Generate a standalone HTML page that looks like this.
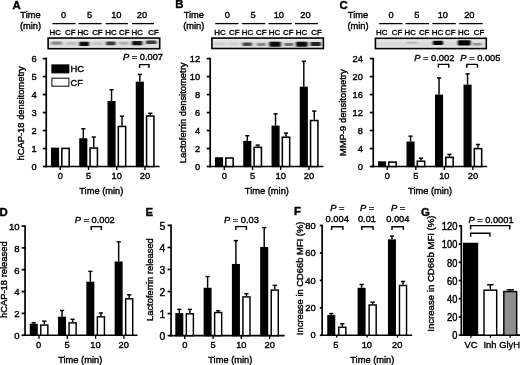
<!DOCTYPE html>
<html><head><meta charset="utf-8"><title>Figure</title>
<style>
html,body{margin:0;padding:0;background:#fff;}
body{width:520px;height:365px;overflow:hidden;}
svg{display:block;filter:grayscale(1) blur(0.3px);font-family:"Liberation Sans",sans-serif;fill:#000;}
text{stroke:#000;stroke-width:0.38px;}
</style></head>
<body>
<svg width="520" height="365" viewBox="0 0 520 365">
<defs><linearGradient id="bg" x1="0" y1="0" x2="0" y2="1"><stop offset="0" stop-color="#ececec"/><stop offset="0.25" stop-color="#e4e4e4"/><stop offset="0.55" stop-color="#d6d6d6"/><stop offset="0.8" stop-color="#e2e2e2"/><stop offset="1" stop-color="#ececec"/></linearGradient><filter id="bl" x="-5%" y="-50%" width="110%" height="200%"><feGaussianBlur stdDeviation="0.9 0.7"/></filter></defs>
<rect x="0" y="0" width="520" height="365" fill="#fff" stroke="none"/>
<text x="12.50" y="8.70" font-size="11.4" text-anchor="start" font-weight="bold" font-style="normal" >A</text>
<text x="30.50" y="18.20" font-size="9.3" text-anchor="middle" font-weight="normal" font-style="normal" >Time</text>
<text x="30.50" y="28.70" font-size="9.3" text-anchor="middle" font-weight="normal" font-style="normal" >(min)</text>
<text x="63.50" y="18.20" font-size="9.3" text-anchor="middle" font-weight="normal" font-style="normal" >0</text>
<text x="89.50" y="18.20" font-size="9.3" text-anchor="middle" font-weight="normal" font-style="normal" >5</text>
<text x="116.30" y="18.20" font-size="9.3" text-anchor="middle" font-weight="normal" font-style="normal" >10</text>
<text x="142.00" y="18.20" font-size="9.3" text-anchor="middle" font-weight="normal" font-style="normal" >20</text>
<line x1="52.40" y1="23.60" x2="75.60" y2="23.60" stroke="#000" stroke-width="1.3"/>
<line x1="78.40" y1="23.60" x2="101.60" y2="23.60" stroke="#000" stroke-width="1.3"/>
<line x1="105.60" y1="23.60" x2="128.00" y2="23.60" stroke="#000" stroke-width="1.3"/>
<line x1="132.00" y1="23.60" x2="154.00" y2="23.60" stroke="#000" stroke-width="1.3"/>
<text x="55.30" y="35.20" font-size="7.9" text-anchor="middle" font-weight="normal" font-style="normal" >HC</text>
<text x="70.30" y="35.20" font-size="7.9" text-anchor="middle" font-weight="normal" font-style="normal" >CF</text>
<text x="83.10" y="35.20" font-size="7.9" text-anchor="middle" font-weight="normal" font-style="normal" >HC</text>
<text x="97.40" y="35.20" font-size="7.9" text-anchor="middle" font-weight="normal" font-style="normal" >CF</text>
<text x="111.00" y="35.20" font-size="7.9" text-anchor="middle" font-weight="normal" font-style="normal" >HC</text>
<text x="124.30" y="35.20" font-size="7.9" text-anchor="middle" font-weight="normal" font-style="normal" >CF</text>
<text x="137.30" y="35.20" font-size="7.9" text-anchor="middle" font-weight="normal" font-style="normal" >HC</text>
<text x="153.50" y="35.20" font-size="7.9" text-anchor="middle" font-weight="normal" font-style="normal" >CF</text>
<line x1="46.25" y1="57.75" x2="46.25" y2="167.35" stroke="#000" stroke-width="1.7"/>
<line x1="45.40" y1="166.50" x2="159.60" y2="166.50" stroke="#000" stroke-width="1.7"/>
<line x1="60.25" y1="166.50" x2="60.25" y2="169.95" stroke="#000" stroke-width="1.4"/>
<line x1="88.50" y1="166.50" x2="88.50" y2="169.95" stroke="#000" stroke-width="1.4"/>
<line x1="116.70" y1="166.50" x2="116.70" y2="169.95" stroke="#000" stroke-width="1.4"/>
<line x1="144.95" y1="166.50" x2="144.95" y2="169.95" stroke="#000" stroke-width="1.4"/>
<line x1="42.80" y1="166.50" x2="46.25" y2="166.50" stroke="#000" stroke-width="1.7"/>
<text transform="translate(36.60,169.50) scale(1,1.0)" font-size="9.3" text-anchor="end">0</text>
<line x1="42.80" y1="148.52" x2="46.25" y2="148.52" stroke="#000" stroke-width="1.7"/>
<text transform="translate(36.60,151.52) scale(1,1.0)" font-size="9.3" text-anchor="end">1</text>
<line x1="42.80" y1="130.53" x2="46.25" y2="130.53" stroke="#000" stroke-width="1.7"/>
<text transform="translate(36.60,133.53) scale(1,1.0)" font-size="9.3" text-anchor="end">2</text>
<line x1="42.80" y1="112.55" x2="46.25" y2="112.55" stroke="#000" stroke-width="1.7"/>
<text transform="translate(36.60,115.55) scale(1,1.0)" font-size="9.3" text-anchor="end">3</text>
<line x1="42.80" y1="94.57" x2="46.25" y2="94.57" stroke="#000" stroke-width="1.7"/>
<text transform="translate(36.60,97.57) scale(1,1.0)" font-size="9.3" text-anchor="end">4</text>
<line x1="42.80" y1="76.58" x2="46.25" y2="76.58" stroke="#000" stroke-width="1.7"/>
<text transform="translate(36.60,79.58) scale(1,1.0)" font-size="9.3" text-anchor="end">5</text>
<line x1="42.80" y1="58.60" x2="46.25" y2="58.60" stroke="#000" stroke-width="1.7"/>
<text transform="translate(36.60,61.60) scale(1,1.0)" font-size="9.3" text-anchor="end">6</text>
<rect x="51.67" y="148.29" width="6.75" height="18.21" fill="#000" stroke="#000" stroke-width="1.35"/>
<rect x="61.82" y="148.39" width="7.35" height="18.11" fill="#fff" stroke="#000" stroke-width="1.55"/>
<line x1="83.30" y1="138.27" x2="83.30" y2="128.74" stroke="#000" stroke-width="1.45"/>
<line x1="81.20" y1="128.74" x2="85.40" y2="128.74" stroke="#000" stroke-width="1.45"/>
<rect x="79.92" y="138.94" width="6.75" height="27.56" fill="#000" stroke="#000" stroke-width="1.35"/>
<line x1="93.75" y1="147.26" x2="93.75" y2="137.01" stroke="#000" stroke-width="1.45"/>
<line x1="91.65" y1="137.01" x2="95.85" y2="137.01" stroke="#000" stroke-width="1.45"/>
<rect x="90.08" y="148.03" width="7.35" height="18.47" fill="#fff" stroke="#000" stroke-width="1.55"/>
<line x1="111.55" y1="101.04" x2="111.55" y2="89.71" stroke="#000" stroke-width="1.45"/>
<line x1="109.45" y1="89.71" x2="113.65" y2="89.71" stroke="#000" stroke-width="1.45"/>
<rect x="108.17" y="101.72" width="6.75" height="64.78" fill="#000" stroke="#000" stroke-width="1.35"/>
<line x1="122.00" y1="125.68" x2="122.00" y2="116.15" stroke="#000" stroke-width="1.45"/>
<line x1="119.90" y1="116.15" x2="124.10" y2="116.15" stroke="#000" stroke-width="1.45"/>
<rect x="118.33" y="126.45" width="7.35" height="40.05" fill="#fff" stroke="#000" stroke-width="1.55"/>
<line x1="139.80" y1="81.62" x2="139.80" y2="74.43" stroke="#000" stroke-width="1.45"/>
<line x1="137.70" y1="74.43" x2="141.90" y2="74.43" stroke="#000" stroke-width="1.45"/>
<rect x="136.43" y="82.29" width="6.75" height="84.21" fill="#000" stroke="#000" stroke-width="1.35"/>
<line x1="150.25" y1="115.25" x2="150.25" y2="113.27" stroke="#000" stroke-width="1.45"/>
<line x1="148.15" y1="113.27" x2="152.35" y2="113.27" stroke="#000" stroke-width="1.45"/>
<rect x="146.58" y="116.02" width="7.35" height="50.48" fill="#fff" stroke="#000" stroke-width="1.55"/>
<text x="60.25" y="179.40" font-size="9.3" text-anchor="middle" font-weight="normal" font-style="normal" >0</text>
<text x="88.50" y="179.40" font-size="9.3" text-anchor="middle" font-weight="normal" font-style="normal" >5</text>
<text x="116.70" y="179.40" font-size="9.3" text-anchor="middle" font-weight="normal" font-style="normal" >10</text>
<text x="144.95" y="179.40" font-size="9.3" text-anchor="middle" font-weight="normal" font-style="normal" >20</text>
<text x="101.30" y="193.50" font-size="9.3" text-anchor="middle" font-weight="normal" font-style="normal" >Time (min)</text>
<text transform="translate(24.00,113.35) rotate(-90)" font-size="9.4" text-anchor="middle">hCAP-18 densitometry</text>
<rect x="51.90" y="64.90" width="17.00" height="8.00" fill="#000" stroke="#000" stroke-width="1.0"/>
<rect x="51.90" y="78.20" width="17.00" height="8.00" fill="#fff" stroke="#000" stroke-width="1.0"/>
<text x="70.60" y="72.20" font-size="9.3" text-anchor="start" font-weight="normal" font-style="normal" >HC</text>
<text x="70.60" y="85.80" font-size="9.3" text-anchor="start" font-weight="normal" font-style="normal" >CF</text>
<text x="143.00" y="59.60" font-size="9.3" text-anchor="middle"><tspan font-style="italic">P</tspan> = 0.007</text>
<path d="M139.60,68.00 V64.60 H149.00 V68.00" fill="none" stroke="#000" stroke-width="1.4"/>
<rect x="48.10" y="38.05" width="111.60" height="10.65" fill="url(#bg)" stroke="none"/>
<g filter="url(#bl)">
<rect x="51.50" y="41.55" width="10.50" height="3.10" rx="1.0" fill="#8a8a8a"/>
<rect x="66.50" y="41.95" width="10.00" height="2.90" rx="1.0" fill="#bdbdbd"/>
<rect x="79.20" y="41.85" width="9.80" height="4.10" rx="1.0" fill="#111"/>
<rect x="92.50" y="42.15" width="9.50" height="2.90" rx="1.0" fill="#c4c4c4"/>
<rect x="106.00" y="41.55" width="9.50" height="3.70" rx="1.0" fill="#3a3a3a"/>
<rect x="119.00" y="41.75" width="9.50" height="3.10" rx="1.0" fill="#b0b0b0"/>
<rect x="132.00" y="40.95" width="10.30" height="4.30" rx="1.0" fill="#151515"/>
<rect x="146.00" y="40.55" width="10.50" height="3.50" rx="1.0" fill="#3a3a3a"/>
</g>
<rect x="48.10" y="38.05" width="111.60" height="10.65" fill="none" stroke="#000" stroke-width="1.6"/>
<text x="175.20" y="8.20" font-size="11.4" text-anchor="start" font-weight="bold" font-style="normal" >B</text>
<text x="193.80" y="18.20" font-size="9.3" text-anchor="middle" font-weight="normal" font-style="normal" >Time</text>
<text x="193.80" y="28.70" font-size="9.3" text-anchor="middle" font-weight="normal" font-style="normal" >(min)</text>
<text x="227.40" y="18.20" font-size="9.3" text-anchor="middle" font-weight="normal" font-style="normal" >0</text>
<text x="253.00" y="18.20" font-size="9.3" text-anchor="middle" font-weight="normal" font-style="normal" >5</text>
<text x="278.80" y="18.20" font-size="9.3" text-anchor="middle" font-weight="normal" font-style="normal" >10</text>
<text x="305.50" y="18.20" font-size="9.3" text-anchor="middle" font-weight="normal" font-style="normal" >20</text>
<line x1="215.30" y1="23.60" x2="238.50" y2="23.60" stroke="#000" stroke-width="1.3"/>
<line x1="241.80" y1="23.60" x2="265.20" y2="23.60" stroke="#000" stroke-width="1.3"/>
<line x1="268.50" y1="23.60" x2="291.80" y2="23.60" stroke="#000" stroke-width="1.3"/>
<line x1="295.00" y1="23.60" x2="318.00" y2="23.60" stroke="#000" stroke-width="1.3"/>
<text x="220.00" y="35.20" font-size="7.9" text-anchor="middle" font-weight="normal" font-style="normal" >HC</text>
<text x="234.30" y="35.20" font-size="7.9" text-anchor="middle" font-weight="normal" font-style="normal" >CF</text>
<text x="247.50" y="35.20" font-size="7.9" text-anchor="middle" font-weight="normal" font-style="normal" >HC</text>
<text x="261.30" y="35.20" font-size="7.9" text-anchor="middle" font-weight="normal" font-style="normal" >CF</text>
<text x="274.50" y="35.20" font-size="7.9" text-anchor="middle" font-weight="normal" font-style="normal" >HC</text>
<text x="288.30" y="35.20" font-size="7.9" text-anchor="middle" font-weight="normal" font-style="normal" >CF</text>
<text x="301.50" y="35.20" font-size="7.9" text-anchor="middle" font-weight="normal" font-style="normal" >HC</text>
<text x="316.50" y="35.20" font-size="7.9" text-anchor="middle" font-weight="normal" font-style="normal" >CF</text>
<line x1="210.20" y1="57.75" x2="210.20" y2="167.35" stroke="#000" stroke-width="1.7"/>
<line x1="209.35" y1="166.50" x2="323.40" y2="166.50" stroke="#000" stroke-width="1.7"/>
<line x1="224.25" y1="166.50" x2="224.25" y2="169.95" stroke="#000" stroke-width="1.4"/>
<line x1="252.50" y1="166.50" x2="252.50" y2="169.95" stroke="#000" stroke-width="1.4"/>
<line x1="280.70" y1="166.50" x2="280.70" y2="169.95" stroke="#000" stroke-width="1.4"/>
<line x1="308.95" y1="166.50" x2="308.95" y2="169.95" stroke="#000" stroke-width="1.4"/>
<line x1="206.75" y1="166.50" x2="210.20" y2="166.50" stroke="#000" stroke-width="1.7"/>
<text transform="translate(200.20,169.50) scale(1,1.0)" font-size="9.3" text-anchor="end">0</text>
<line x1="206.75" y1="148.52" x2="210.20" y2="148.52" stroke="#000" stroke-width="1.7"/>
<text transform="translate(200.20,151.52) scale(1,1.0)" font-size="9.3" text-anchor="end">2</text>
<line x1="206.75" y1="130.53" x2="210.20" y2="130.53" stroke="#000" stroke-width="1.7"/>
<text transform="translate(200.20,133.53) scale(1,1.0)" font-size="9.3" text-anchor="end">4</text>
<line x1="206.75" y1="112.55" x2="210.20" y2="112.55" stroke="#000" stroke-width="1.7"/>
<text transform="translate(200.20,115.55) scale(1,1.0)" font-size="9.3" text-anchor="end">6</text>
<line x1="206.75" y1="94.57" x2="210.20" y2="94.57" stroke="#000" stroke-width="1.7"/>
<text transform="translate(200.20,97.57) scale(1,1.0)" font-size="9.3" text-anchor="end">8</text>
<line x1="206.75" y1="76.58" x2="210.20" y2="76.58" stroke="#000" stroke-width="1.7"/>
<text transform="translate(200.20,79.58) scale(1,1.0)" font-size="9.3" text-anchor="end">10</text>
<line x1="206.75" y1="58.60" x2="210.20" y2="58.60" stroke="#000" stroke-width="1.7"/>
<text transform="translate(200.20,61.60) scale(1,1.0)" font-size="9.3" text-anchor="end">12</text>
<rect x="215.68" y="157.91" width="6.75" height="8.59" fill="#000" stroke="#000" stroke-width="1.35"/>
<rect x="225.83" y="158.01" width="7.35" height="8.49" fill="#fff" stroke="#000" stroke-width="1.55"/>
<line x1="247.30" y1="140.87" x2="247.30" y2="135.75" stroke="#000" stroke-width="1.45"/>
<line x1="245.20" y1="135.75" x2="249.40" y2="135.75" stroke="#000" stroke-width="1.45"/>
<rect x="243.93" y="141.55" width="6.75" height="24.95" fill="#000" stroke="#000" stroke-width="1.35"/>
<line x1="257.75" y1="146.54" x2="257.75" y2="145.10" stroke="#000" stroke-width="1.45"/>
<line x1="255.65" y1="145.10" x2="259.85" y2="145.10" stroke="#000" stroke-width="1.45"/>
<rect x="254.08" y="147.31" width="7.35" height="19.19" fill="#fff" stroke="#000" stroke-width="1.55"/>
<line x1="275.55" y1="125.59" x2="275.55" y2="113.81" stroke="#000" stroke-width="1.45"/>
<line x1="273.45" y1="113.81" x2="277.65" y2="113.81" stroke="#000" stroke-width="1.45"/>
<rect x="272.18" y="126.26" width="6.75" height="40.24" fill="#000" stroke="#000" stroke-width="1.35"/>
<line x1="286.00" y1="136.38" x2="286.00" y2="133.05" stroke="#000" stroke-width="1.45"/>
<line x1="283.90" y1="133.05" x2="288.10" y2="133.05" stroke="#000" stroke-width="1.45"/>
<rect x="282.32" y="137.15" width="7.35" height="29.35" fill="#fff" stroke="#000" stroke-width="1.55"/>
<line x1="303.80" y1="86.65" x2="303.80" y2="61.30" stroke="#000" stroke-width="1.45"/>
<line x1="301.70" y1="61.30" x2="305.90" y2="61.30" stroke="#000" stroke-width="1.45"/>
<rect x="300.43" y="87.33" width="6.75" height="79.17" fill="#000" stroke="#000" stroke-width="1.35"/>
<line x1="314.25" y1="119.74" x2="314.25" y2="111.11" stroke="#000" stroke-width="1.45"/>
<line x1="312.15" y1="111.11" x2="316.35" y2="111.11" stroke="#000" stroke-width="1.45"/>
<rect x="310.57" y="120.52" width="7.35" height="45.98" fill="#fff" stroke="#000" stroke-width="1.55"/>
<text x="224.25" y="179.40" font-size="9.3" text-anchor="middle" font-weight="normal" font-style="normal" >0</text>
<text x="252.50" y="179.40" font-size="9.3" text-anchor="middle" font-weight="normal" font-style="normal" >5</text>
<text x="280.70" y="179.40" font-size="9.3" text-anchor="middle" font-weight="normal" font-style="normal" >10</text>
<text x="308.95" y="179.40" font-size="9.3" text-anchor="middle" font-weight="normal" font-style="normal" >20</text>
<text x="266.90" y="193.50" font-size="9.3" text-anchor="middle" font-weight="normal" font-style="normal" >Time (min)</text>
<text transform="translate(185.70,112.85) rotate(-90)" font-size="9.4" text-anchor="middle">Lactoferrin densitometry</text>
<rect x="211.90" y="38.05" width="111.50" height="10.45" fill="url(#bg)" stroke="none"/>
<g filter="url(#bl)">
<rect x="215.50" y="42.50" width="9.00" height="3.20" rx="1.0" fill="#cfcfcf"/>
<rect x="229.30" y="42.70" width="9.00" height="3.20" rx="1.0" fill="#d2d2d2"/>
<rect x="242.50" y="42.50" width="9.50" height="3.60" rx="1.0" fill="#4a4a4a"/>
<rect x="256.80" y="42.90" width="9.00" height="3.20" rx="1.0" fill="#888"/>
<rect x="269.30" y="41.70" width="11.50" height="5.00" rx="1.0" fill="#0a0a0a"/>
<rect x="284.30" y="42.90" width="9.00" height="3.20" rx="1.0" fill="#707070"/>
<rect x="296.00" y="41.70" width="11.50" height="5.00" rx="1.0" fill="#0a0a0a"/>
<rect x="310.50" y="41.90" width="10.30" height="4.00" rx="1.0" fill="#202020"/>
</g>
<rect x="211.90" y="38.05" width="111.50" height="10.45" fill="none" stroke="#000" stroke-width="1.6"/>
<text x="339.60" y="8.90" font-size="11.4" text-anchor="start" font-weight="bold" font-style="normal" >C</text>
<text x="358.00" y="18.20" font-size="9.3" text-anchor="middle" font-weight="normal" font-style="normal" >Time</text>
<text x="358.00" y="28.70" font-size="9.3" text-anchor="middle" font-weight="normal" font-style="normal" >(min)</text>
<text x="391.20" y="18.20" font-size="9.3" text-anchor="middle" font-weight="normal" font-style="normal" >0</text>
<text x="416.90" y="18.20" font-size="9.3" text-anchor="middle" font-weight="normal" font-style="normal" >5</text>
<text x="442.80" y="18.20" font-size="9.3" text-anchor="middle" font-weight="normal" font-style="normal" >10</text>
<text x="469.30" y="18.20" font-size="9.3" text-anchor="middle" font-weight="normal" font-style="normal" >20</text>
<line x1="379.10" y1="23.60" x2="402.50" y2="23.60" stroke="#000" stroke-width="1.3"/>
<line x1="405.60" y1="23.60" x2="429.00" y2="23.60" stroke="#000" stroke-width="1.3"/>
<line x1="432.40" y1="23.60" x2="455.80" y2="23.60" stroke="#000" stroke-width="1.3"/>
<line x1="459.30" y1="23.60" x2="482.70" y2="23.60" stroke="#000" stroke-width="1.3"/>
<text x="381.80" y="35.20" font-size="7.9" text-anchor="middle" font-weight="normal" font-style="normal" >HC</text>
<text x="397.10" y="35.20" font-size="7.9" text-anchor="middle" font-weight="normal" font-style="normal" >CF</text>
<text x="410.30" y="35.20" font-size="7.9" text-anchor="middle" font-weight="normal" font-style="normal" >HC</text>
<text x="424.20" y="35.20" font-size="7.9" text-anchor="middle" font-weight="normal" font-style="normal" >CF</text>
<text x="437.40" y="35.20" font-size="7.9" text-anchor="middle" font-weight="normal" font-style="normal" >HC</text>
<text x="450.30" y="35.20" font-size="7.9" text-anchor="middle" font-weight="normal" font-style="normal" >CF</text>
<text x="463.70" y="35.20" font-size="7.9" text-anchor="middle" font-weight="normal" font-style="normal" >HC</text>
<text x="479.00" y="35.20" font-size="7.9" text-anchor="middle" font-weight="normal" font-style="normal" >CF</text>
<line x1="373.25" y1="57.75" x2="373.25" y2="167.35" stroke="#000" stroke-width="1.7"/>
<line x1="372.40" y1="166.50" x2="487.20" y2="166.50" stroke="#000" stroke-width="1.7"/>
<line x1="387.25" y1="166.50" x2="387.25" y2="169.95" stroke="#000" stroke-width="1.4"/>
<line x1="415.80" y1="166.50" x2="415.80" y2="169.95" stroke="#000" stroke-width="1.4"/>
<line x1="444.35" y1="166.50" x2="444.35" y2="169.95" stroke="#000" stroke-width="1.4"/>
<line x1="472.90" y1="166.50" x2="472.90" y2="169.95" stroke="#000" stroke-width="1.4"/>
<line x1="369.80" y1="166.50" x2="373.25" y2="166.50" stroke="#000" stroke-width="1.7"/>
<text transform="translate(362.80,169.50) scale(1,1.0)" font-size="9.3" text-anchor="end">0</text>
<line x1="369.80" y1="148.52" x2="373.25" y2="148.52" stroke="#000" stroke-width="1.7"/>
<text transform="translate(362.80,151.52) scale(1,1.0)" font-size="9.3" text-anchor="end">4</text>
<line x1="369.80" y1="130.53" x2="373.25" y2="130.53" stroke="#000" stroke-width="1.7"/>
<text transform="translate(362.80,133.53) scale(1,1.0)" font-size="9.3" text-anchor="end">8</text>
<line x1="369.80" y1="112.55" x2="373.25" y2="112.55" stroke="#000" stroke-width="1.7"/>
<text transform="translate(362.80,115.55) scale(1,1.0)" font-size="9.3" text-anchor="end">12</text>
<line x1="369.80" y1="94.57" x2="373.25" y2="94.57" stroke="#000" stroke-width="1.7"/>
<text transform="translate(362.80,97.57) scale(1,1.0)" font-size="9.3" text-anchor="end">16</text>
<line x1="369.80" y1="76.58" x2="373.25" y2="76.58" stroke="#000" stroke-width="1.7"/>
<text transform="translate(362.80,79.58) scale(1,1.0)" font-size="9.3" text-anchor="end">20</text>
<line x1="369.80" y1="58.60" x2="373.25" y2="58.60" stroke="#000" stroke-width="1.7"/>
<text transform="translate(362.80,61.60) scale(1,1.0)" font-size="9.3" text-anchor="end">24</text>
<rect x="378.68" y="162.00" width="6.75" height="4.50" fill="#000" stroke="#000" stroke-width="1.35"/>
<rect x="388.82" y="162.10" width="7.35" height="4.40" fill="#fff" stroke="#000" stroke-width="1.55"/>
<line x1="410.55" y1="141.55" x2="410.55" y2="136.15" stroke="#000" stroke-width="1.45"/>
<line x1="408.45" y1="136.15" x2="412.65" y2="136.15" stroke="#000" stroke-width="1.45"/>
<rect x="407.18" y="142.22" width="6.75" height="24.28" fill="#000" stroke="#000" stroke-width="1.35"/>
<line x1="421.00" y1="160.43" x2="421.00" y2="158.18" stroke="#000" stroke-width="1.45"/>
<line x1="418.90" y1="158.18" x2="423.10" y2="158.18" stroke="#000" stroke-width="1.45"/>
<rect x="417.32" y="161.21" width="7.35" height="5.29" fill="#fff" stroke="#000" stroke-width="1.55"/>
<line x1="439.05" y1="94.57" x2="439.05" y2="77.93" stroke="#000" stroke-width="1.45"/>
<line x1="436.95" y1="77.93" x2="441.15" y2="77.93" stroke="#000" stroke-width="1.45"/>
<rect x="435.68" y="95.24" width="6.75" height="71.26" fill="#000" stroke="#000" stroke-width="1.35"/>
<line x1="449.50" y1="156.61" x2="449.50" y2="154.36" stroke="#000" stroke-width="1.45"/>
<line x1="447.40" y1="154.36" x2="451.60" y2="154.36" stroke="#000" stroke-width="1.45"/>
<rect x="445.82" y="157.38" width="7.35" height="9.12" fill="#fff" stroke="#000" stroke-width="1.55"/>
<line x1="467.55" y1="84.68" x2="467.55" y2="73.89" stroke="#000" stroke-width="1.45"/>
<line x1="465.45" y1="73.89" x2="469.65" y2="73.89" stroke="#000" stroke-width="1.45"/>
<rect x="464.18" y="85.35" width="6.75" height="81.15" fill="#000" stroke="#000" stroke-width="1.35"/>
<line x1="478.00" y1="147.84" x2="478.00" y2="144.47" stroke="#000" stroke-width="1.45"/>
<line x1="475.90" y1="144.47" x2="480.10" y2="144.47" stroke="#000" stroke-width="1.45"/>
<rect x="474.32" y="148.62" width="7.35" height="17.88" fill="#fff" stroke="#000" stroke-width="1.55"/>
<text x="387.25" y="179.40" font-size="9.3" text-anchor="middle" font-weight="normal" font-style="normal" >0</text>
<text x="415.80" y="179.40" font-size="9.3" text-anchor="middle" font-weight="normal" font-style="normal" >5</text>
<text x="444.35" y="179.40" font-size="9.3" text-anchor="middle" font-weight="normal" font-style="normal" >10</text>
<text x="472.90" y="179.40" font-size="9.3" text-anchor="middle" font-weight="normal" font-style="normal" >20</text>
<text x="430.10" y="193.50" font-size="9.3" text-anchor="middle" font-weight="normal" font-style="normal" >Time (min)</text>
<text transform="translate(346.20,112.65) rotate(-90)" font-size="9.4" text-anchor="middle">MMP-9 densitometry</text>
<text x="434.30" y="61.20" font-size="9.3" text-anchor="middle"><tspan font-style="italic">P</tspan> = 0.002</text>
<path d="M438.40,67.80 V64.40 H448.80 V67.80" fill="none" stroke="#000" stroke-width="1.4"/>
<text x="480.40" y="61.20" font-size="9.3" text-anchor="middle"><tspan font-style="italic">P</tspan> = 0.005</text>
<path d="M466.80,67.80 V64.40 H477.40 V67.80" fill="none" stroke="#000" stroke-width="1.4"/>
<rect x="375.40" y="38.30" width="110.90" height="10.30" fill="url(#bg)" stroke="none"/>
<g filter="url(#bl)">
<rect x="406.00" y="41.60" width="11.00" height="2.20" rx="1.0" fill="#bcbcbc"/>
<rect x="432.90" y="40.80" width="10.10" height="4.20" rx="1.0" fill="#050505"/>
<rect x="448.00" y="42.40" width="5.30" height="1.80" rx="1.0" fill="#d6d6d6"/>
<rect x="457.80" y="40.30" width="12.80" height="5.30" rx="1.0" fill="#000"/>
<rect x="473.00" y="43.00" width="8.60" height="2.40" rx="1.0" fill="#909090"/>
</g>
<rect x="375.40" y="38.30" width="110.90" height="10.30" fill="none" stroke="#000" stroke-width="1.6"/>
<text x="-0.60" y="215.60" font-size="11.4" text-anchor="start" font-weight="bold" font-style="normal" >D</text>
<line x1="25.05" y1="225.15" x2="25.05" y2="336.10" stroke="#000" stroke-width="1.7"/>
<line x1="24.20" y1="335.25" x2="137.50" y2="335.25" stroke="#000" stroke-width="1.7"/>
<line x1="39.00" y1="335.25" x2="39.00" y2="338.70" stroke="#000" stroke-width="1.4"/>
<line x1="67.30" y1="335.25" x2="67.30" y2="338.70" stroke="#000" stroke-width="1.4"/>
<line x1="95.60" y1="335.25" x2="95.60" y2="338.70" stroke="#000" stroke-width="1.4"/>
<line x1="123.90" y1="335.25" x2="123.90" y2="338.70" stroke="#000" stroke-width="1.4"/>
<line x1="21.60" y1="335.25" x2="25.05" y2="335.25" stroke="#000" stroke-width="1.7"/>
<text transform="translate(19.60,339.05) scale(1,1.0)" font-size="9.6" text-anchor="end">0</text>
<line x1="21.60" y1="313.40" x2="25.05" y2="313.40" stroke="#000" stroke-width="1.7"/>
<text transform="translate(19.60,317.20) scale(1,1.0)" font-size="9.6" text-anchor="end">2</text>
<line x1="21.60" y1="291.55" x2="25.05" y2="291.55" stroke="#000" stroke-width="1.7"/>
<text transform="translate(19.60,295.35) scale(1,1.0)" font-size="9.6" text-anchor="end">4</text>
<line x1="21.60" y1="269.70" x2="25.05" y2="269.70" stroke="#000" stroke-width="1.7"/>
<text transform="translate(19.60,273.50) scale(1,1.0)" font-size="9.6" text-anchor="end">6</text>
<line x1="21.60" y1="247.85" x2="25.05" y2="247.85" stroke="#000" stroke-width="1.7"/>
<text transform="translate(19.60,251.65) scale(1,1.0)" font-size="9.6" text-anchor="end">8</text>
<line x1="21.60" y1="226.00" x2="25.05" y2="226.00" stroke="#000" stroke-width="1.7"/>
<text transform="translate(19.60,229.80) scale(1,1.0)" font-size="9.6" text-anchor="end">10</text>
<line x1="33.75" y1="323.78" x2="33.75" y2="322.69" stroke="#000" stroke-width="1.45"/>
<line x1="31.65" y1="322.69" x2="35.85" y2="322.69" stroke="#000" stroke-width="1.45"/>
<rect x="30.43" y="324.45" width="6.65" height="10.80" fill="#000" stroke="#000" stroke-width="1.35"/>
<line x1="44.30" y1="324.32" x2="44.30" y2="321.16" stroke="#000" stroke-width="1.45"/>
<line x1="42.20" y1="321.16" x2="46.40" y2="321.16" stroke="#000" stroke-width="1.45"/>
<rect x="40.77" y="325.05" width="7.05" height="10.20" fill="#fff" stroke="#000" stroke-width="1.45"/>
<line x1="62.05" y1="316.68" x2="62.05" y2="310.45" stroke="#000" stroke-width="1.45"/>
<line x1="59.95" y1="310.45" x2="64.15" y2="310.45" stroke="#000" stroke-width="1.45"/>
<rect x="58.72" y="317.35" width="6.65" height="17.90" fill="#000" stroke="#000" stroke-width="1.35"/>
<line x1="72.60" y1="322.14" x2="72.60" y2="319.30" stroke="#000" stroke-width="1.45"/>
<line x1="70.50" y1="319.30" x2="74.70" y2="319.30" stroke="#000" stroke-width="1.45"/>
<rect x="69.07" y="322.87" width="7.05" height="12.39" fill="#fff" stroke="#000" stroke-width="1.45"/>
<line x1="90.35" y1="281.72" x2="90.35" y2="271.34" stroke="#000" stroke-width="1.45"/>
<line x1="88.25" y1="271.34" x2="92.45" y2="271.34" stroke="#000" stroke-width="1.45"/>
<rect x="87.02" y="282.39" width="6.65" height="52.86" fill="#000" stroke="#000" stroke-width="1.35"/>
<line x1="100.90" y1="316.13" x2="100.90" y2="312.96" stroke="#000" stroke-width="1.45"/>
<line x1="98.80" y1="312.96" x2="103.00" y2="312.96" stroke="#000" stroke-width="1.45"/>
<rect x="97.37" y="316.86" width="7.05" height="18.39" fill="#fff" stroke="#000" stroke-width="1.45"/>
<line x1="118.65" y1="261.51" x2="118.65" y2="241.84" stroke="#000" stroke-width="1.45"/>
<line x1="116.55" y1="241.84" x2="120.75" y2="241.84" stroke="#000" stroke-width="1.45"/>
<rect x="115.33" y="262.18" width="6.65" height="73.07" fill="#000" stroke="#000" stroke-width="1.35"/>
<line x1="129.20" y1="298.11" x2="129.20" y2="294.83" stroke="#000" stroke-width="1.45"/>
<line x1="127.10" y1="294.83" x2="131.30" y2="294.83" stroke="#000" stroke-width="1.45"/>
<rect x="125.67" y="298.83" width="7.05" height="36.42" fill="#fff" stroke="#000" stroke-width="1.45"/>
<text x="38.60" y="348.10" font-size="9.3" text-anchor="middle" font-weight="normal" font-style="normal" >0</text>
<text x="67.00" y="348.10" font-size="9.3" text-anchor="middle" font-weight="normal" font-style="normal" >5</text>
<text x="95.40" y="348.10" font-size="9.3" text-anchor="middle" font-weight="normal" font-style="normal" >10</text>
<text x="123.70" y="348.10" font-size="9.3" text-anchor="middle" font-weight="normal" font-style="normal" >20</text>
<text x="80.20" y="363.20" font-size="9.3" text-anchor="middle" font-weight="normal" font-style="normal" >Time (min)</text>
<text transform="translate(7.00,279.70) rotate(-90)" font-size="9.4" text-anchor="middle">hCAP-18 released</text>
<text x="94.70" y="223.00" font-size="9.3" text-anchor="middle"><tspan font-style="italic">P</tspan> = 0.002</text>
<path d="M91.20,230.00 V226.60 H101.30 V230.00" fill="none" stroke="#000" stroke-width="1.4"/>
<text x="145.50" y="215.60" font-size="11.4" text-anchor="start" font-weight="bold" font-style="normal" >E</text>
<line x1="171.05" y1="224.55" x2="171.05" y2="336.45" stroke="#000" stroke-width="1.7"/>
<line x1="170.20" y1="335.60" x2="284.70" y2="335.60" stroke="#000" stroke-width="1.7"/>
<line x1="184.75" y1="335.60" x2="184.75" y2="339.05" stroke="#000" stroke-width="1.4"/>
<line x1="213.05" y1="335.60" x2="213.05" y2="339.05" stroke="#000" stroke-width="1.4"/>
<line x1="241.35" y1="335.60" x2="241.35" y2="339.05" stroke="#000" stroke-width="1.4"/>
<line x1="269.65" y1="335.60" x2="269.65" y2="339.05" stroke="#000" stroke-width="1.4"/>
<line x1="167.60" y1="335.60" x2="171.05" y2="335.60" stroke="#000" stroke-width="1.7"/>
<text transform="translate(165.30,339.78) scale(1,1.0)" font-size="10.4" text-anchor="end">0</text>
<line x1="167.60" y1="313.56" x2="171.05" y2="313.56" stroke="#000" stroke-width="1.7"/>
<text transform="translate(165.30,317.74) scale(1,1.0)" font-size="10.4" text-anchor="end">1</text>
<line x1="167.60" y1="291.52" x2="171.05" y2="291.52" stroke="#000" stroke-width="1.7"/>
<text transform="translate(165.30,295.70) scale(1,1.0)" font-size="10.4" text-anchor="end">2</text>
<line x1="167.60" y1="269.48" x2="171.05" y2="269.48" stroke="#000" stroke-width="1.7"/>
<text transform="translate(165.30,273.66) scale(1,1.0)" font-size="10.4" text-anchor="end">3</text>
<line x1="167.60" y1="247.44" x2="171.05" y2="247.44" stroke="#000" stroke-width="1.7"/>
<text transform="translate(165.30,251.62) scale(1,1.0)" font-size="10.4" text-anchor="end">4</text>
<line x1="167.60" y1="225.40" x2="171.05" y2="225.40" stroke="#000" stroke-width="1.7"/>
<text transform="translate(165.30,229.58) scale(1,1.0)" font-size="10.4" text-anchor="end">5</text>
<line x1="179.30" y1="313.12" x2="179.30" y2="309.37" stroke="#000" stroke-width="1.45"/>
<line x1="177.20" y1="309.37" x2="181.40" y2="309.37" stroke="#000" stroke-width="1.45"/>
<rect x="175.98" y="313.79" width="6.65" height="21.81" fill="#000" stroke="#000" stroke-width="1.35"/>
<line x1="189.85" y1="313.12" x2="189.85" y2="309.37" stroke="#000" stroke-width="1.45"/>
<line x1="187.75" y1="309.37" x2="191.95" y2="309.37" stroke="#000" stroke-width="1.45"/>
<rect x="186.33" y="313.84" width="7.05" height="21.76" fill="#fff" stroke="#000" stroke-width="1.45"/>
<line x1="207.60" y1="287.77" x2="207.60" y2="276.53" stroke="#000" stroke-width="1.45"/>
<line x1="205.50" y1="276.53" x2="209.70" y2="276.53" stroke="#000" stroke-width="1.45"/>
<rect x="204.28" y="288.45" width="6.65" height="47.15" fill="#000" stroke="#000" stroke-width="1.35"/>
<line x1="218.15" y1="311.80" x2="218.15" y2="310.69" stroke="#000" stroke-width="1.45"/>
<line x1="216.05" y1="310.69" x2="220.25" y2="310.69" stroke="#000" stroke-width="1.45"/>
<rect x="214.63" y="312.52" width="7.05" height="23.08" fill="#fff" stroke="#000" stroke-width="1.45"/>
<line x1="235.90" y1="263.97" x2="235.90" y2="240.61" stroke="#000" stroke-width="1.45"/>
<line x1="233.80" y1="240.61" x2="238.00" y2="240.61" stroke="#000" stroke-width="1.45"/>
<rect x="232.58" y="264.65" width="6.65" height="70.95" fill="#000" stroke="#000" stroke-width="1.35"/>
<line x1="246.45" y1="296.15" x2="246.45" y2="293.72" stroke="#000" stroke-width="1.45"/>
<line x1="244.35" y1="293.72" x2="248.55" y2="293.72" stroke="#000" stroke-width="1.45"/>
<rect x="242.93" y="296.87" width="7.05" height="38.73" fill="#fff" stroke="#000" stroke-width="1.45"/>
<line x1="264.20" y1="247.00" x2="264.20" y2="227.60" stroke="#000" stroke-width="1.45"/>
<line x1="262.10" y1="227.60" x2="266.30" y2="227.60" stroke="#000" stroke-width="1.45"/>
<rect x="260.88" y="247.67" width="6.65" height="87.93" fill="#000" stroke="#000" stroke-width="1.35"/>
<line x1="274.75" y1="289.32" x2="274.75" y2="285.35" stroke="#000" stroke-width="1.45"/>
<line x1="272.65" y1="285.35" x2="276.85" y2="285.35" stroke="#000" stroke-width="1.45"/>
<rect x="271.23" y="290.04" width="7.05" height="45.56" fill="#fff" stroke="#000" stroke-width="1.45"/>
<text x="184.75" y="348.10" font-size="9.3" text-anchor="middle" font-weight="normal" font-style="normal" >0</text>
<text x="213.05" y="348.10" font-size="9.3" text-anchor="middle" font-weight="normal" font-style="normal" >5</text>
<text x="241.35" y="348.10" font-size="9.3" text-anchor="middle" font-weight="normal" font-style="normal" >10</text>
<text x="269.65" y="348.10" font-size="9.3" text-anchor="middle" font-weight="normal" font-style="normal" >20</text>
<text x="230.30" y="363.20" font-size="9.3" text-anchor="middle" font-weight="normal" font-style="normal" >Time (min)</text>
<text transform="translate(153.30,279.60) rotate(-90)" font-size="9.4" text-anchor="middle">Lactoferrin released</text>
<text x="241.50" y="222.70" font-size="9.3" text-anchor="middle"><tspan font-style="italic">P</tspan> = 0.03</text>
<path d="M235.80,230.00 V226.60 H246.40 V230.00" fill="none" stroke="#000" stroke-width="1.4"/>
<text x="294.10" y="215.00" font-size="11.4" text-anchor="start" font-weight="bold" font-style="normal" >F</text>
<line x1="322.15" y1="224.65" x2="322.15" y2="336.10" stroke="#000" stroke-width="1.7"/>
<line x1="321.30" y1="335.25" x2="412.20" y2="335.25" stroke="#000" stroke-width="1.7"/>
<line x1="336.75" y1="335.25" x2="336.75" y2="337.60" stroke="#000" stroke-width="1.4"/>
<line x1="367.10" y1="335.25" x2="367.10" y2="337.60" stroke="#000" stroke-width="1.4"/>
<line x1="397.45" y1="335.25" x2="397.45" y2="337.60" stroke="#000" stroke-width="1.4"/>
<line x1="319.80" y1="335.25" x2="322.15" y2="335.25" stroke="#000" stroke-width="1.7"/>
<text transform="translate(315.80,338.38) scale(1,1.06)" font-size="9.4" text-anchor="end">0</text>
<line x1="319.80" y1="307.81" x2="322.15" y2="307.81" stroke="#000" stroke-width="1.7"/>
<text transform="translate(315.80,310.94) scale(1,1.06)" font-size="9.4" text-anchor="end">20</text>
<line x1="319.80" y1="280.38" x2="322.15" y2="280.38" stroke="#000" stroke-width="1.7"/>
<text transform="translate(315.80,283.50) scale(1,1.06)" font-size="9.4" text-anchor="end">40</text>
<line x1="319.80" y1="252.94" x2="322.15" y2="252.94" stroke="#000" stroke-width="1.7"/>
<text transform="translate(315.80,256.07) scale(1,1.06)" font-size="9.4" text-anchor="end">60</text>
<line x1="319.80" y1="225.50" x2="322.15" y2="225.50" stroke="#000" stroke-width="1.7"/>
<text transform="translate(315.80,228.63) scale(1,1.06)" font-size="9.4" text-anchor="end">80</text>
<line x1="331.25" y1="315.08" x2="331.25" y2="313.57" stroke="#000" stroke-width="1.45"/>
<line x1="329.15" y1="313.57" x2="333.35" y2="313.57" stroke="#000" stroke-width="1.45"/>
<rect x="327.93" y="315.76" width="6.65" height="19.49" fill="#000" stroke="#000" stroke-width="1.35"/>
<line x1="342.30" y1="326.47" x2="342.30" y2="323.86" stroke="#000" stroke-width="1.45"/>
<line x1="340.20" y1="323.86" x2="344.40" y2="323.86" stroke="#000" stroke-width="1.45"/>
<rect x="338.78" y="327.20" width="7.05" height="8.05" fill="#fff" stroke="#000" stroke-width="1.45"/>
<line x1="361.60" y1="287.78" x2="361.60" y2="284.49" stroke="#000" stroke-width="1.45"/>
<line x1="359.50" y1="284.49" x2="363.70" y2="284.49" stroke="#000" stroke-width="1.45"/>
<rect x="358.28" y="288.46" width="6.65" height="46.79" fill="#000" stroke="#000" stroke-width="1.35"/>
<line x1="372.65" y1="304.25" x2="372.65" y2="302.19" stroke="#000" stroke-width="1.45"/>
<line x1="370.55" y1="302.19" x2="374.75" y2="302.19" stroke="#000" stroke-width="1.45"/>
<rect x="369.13" y="304.97" width="7.05" height="30.28" fill="#fff" stroke="#000" stroke-width="1.45"/>
<line x1="391.95" y1="239.36" x2="391.95" y2="236.06" stroke="#000" stroke-width="1.45"/>
<line x1="389.85" y1="236.06" x2="394.05" y2="236.06" stroke="#000" stroke-width="1.45"/>
<rect x="388.62" y="240.03" width="6.65" height="95.22" fill="#000" stroke="#000" stroke-width="1.35"/>
<line x1="403.00" y1="284.76" x2="403.00" y2="281.47" stroke="#000" stroke-width="1.45"/>
<line x1="400.90" y1="281.47" x2="405.10" y2="281.47" stroke="#000" stroke-width="1.45"/>
<rect x="399.48" y="285.49" width="7.05" height="49.76" fill="#fff" stroke="#000" stroke-width="1.45"/>
<text x="335.90" y="348.10" font-size="9.3" text-anchor="middle" font-weight="normal" font-style="normal" >5</text>
<text x="366.80" y="348.10" font-size="9.3" text-anchor="middle" font-weight="normal" font-style="normal" >10</text>
<text x="397.20" y="348.10" font-size="9.3" text-anchor="middle" font-weight="normal" font-style="normal" >20</text>
<text x="372.30" y="363.20" font-size="9.3" text-anchor="middle" font-weight="normal" font-style="normal" >Time (min)</text>
<text transform="translate(303.10,278.40) rotate(-90)" font-size="9.4" text-anchor="middle">Increase in CD66b MFI (%)</text>
<text x="337.4" y="211.4" font-size="9.3" text-anchor="middle"><tspan font-style="italic">P</tspan> =</text>
<text x="337.20" y="222.40" font-size="9.3" text-anchor="middle" font-weight="normal" font-style="normal" >0.004</text>
<text x="367.2" y="211.4" font-size="9.3" text-anchor="middle"><tspan font-style="italic">P</tspan> =</text>
<text x="367.00" y="222.40" font-size="9.3" text-anchor="middle" font-weight="normal" font-style="normal" >0.01</text>
<text x="398.0" y="211.4" font-size="9.3" text-anchor="middle"><tspan font-style="italic">P</tspan> =</text>
<text x="397.80" y="222.40" font-size="9.3" text-anchor="middle" font-weight="normal" font-style="normal" >0.004</text>
<path d="M331.60,230.10 V226.70 H342.90 V230.10" fill="none" stroke="#000" stroke-width="1.4"/>
<path d="M361.80,230.10 V226.70 H373.10 V230.10" fill="none" stroke="#000" stroke-width="1.4"/>
<path d="M392.00,230.10 V226.70 H403.40 V230.10" fill="none" stroke="#000" stroke-width="1.4"/>
<text x="420.90" y="215.60" font-size="11.4" text-anchor="start" font-weight="bold" font-style="normal" >G</text>
<line x1="461.30" y1="225.05" x2="461.30" y2="336.00" stroke="#000" stroke-width="1.7"/>
<line x1="460.45" y1="335.15" x2="521.00" y2="335.15" stroke="#000" stroke-width="1.7"/>
<line x1="470.90" y1="335.15" x2="470.90" y2="337.70" stroke="#000" stroke-width="1.4"/>
<line x1="490.40" y1="335.15" x2="490.40" y2="337.70" stroke="#000" stroke-width="1.4"/>
<line x1="510.20" y1="335.15" x2="510.20" y2="337.70" stroke="#000" stroke-width="1.4"/>
<line x1="458.75" y1="335.15" x2="461.30" y2="335.15" stroke="#000" stroke-width="1.7"/>
<text transform="translate(457.30,339.43) scale(1,1.12)" font-size="9.3" text-anchor="end">0</text>
<line x1="458.75" y1="316.94" x2="461.30" y2="316.94" stroke="#000" stroke-width="1.7"/>
<text transform="translate(457.30,321.22) scale(1,1.12)" font-size="9.3" text-anchor="end">20</text>
<line x1="458.75" y1="298.73" x2="461.30" y2="298.73" stroke="#000" stroke-width="1.7"/>
<text transform="translate(457.30,303.02) scale(1,1.12)" font-size="9.3" text-anchor="end">40</text>
<line x1="458.75" y1="280.52" x2="461.30" y2="280.52" stroke="#000" stroke-width="1.7"/>
<text transform="translate(457.30,284.81) scale(1,1.12)" font-size="9.3" text-anchor="end">60</text>
<line x1="458.75" y1="262.32" x2="461.30" y2="262.32" stroke="#000" stroke-width="1.7"/>
<text transform="translate(457.30,266.60) scale(1,1.12)" font-size="9.3" text-anchor="end">80</text>
<line x1="458.75" y1="244.11" x2="461.30" y2="244.11" stroke="#000" stroke-width="1.7"/>
<text transform="translate(457.30,248.39) scale(1,1.12)" font-size="9.3" text-anchor="end">100</text>
<line x1="458.75" y1="225.90" x2="461.30" y2="225.90" stroke="#000" stroke-width="1.7"/>
<text transform="translate(457.30,230.18) scale(1,1.12)" font-size="9.3" text-anchor="end">120</text>
<rect x="463.57" y="243.43" width="13.95" height="91.82" fill="#000" stroke="#000" stroke-width="1.35"/>
<line x1="490.35" y1="289.46" x2="490.35" y2="284.72" stroke="#000" stroke-width="1.45"/>
<line x1="487.10" y1="284.72" x2="493.60" y2="284.72" stroke="#000" stroke-width="1.45"/>
<rect x="484.03" y="290.18" width="12.65" height="45.07" fill="#fff" stroke="#000" stroke-width="1.45"/>
<line x1="510.25" y1="290.82" x2="510.25" y2="289.82" stroke="#000" stroke-width="1.45"/>
<line x1="506.55" y1="289.82" x2="513.95" y2="289.82" stroke="#000" stroke-width="1.45"/>
<rect x="503.83" y="291.55" width="12.85" height="43.70" fill="#8e8e8e" stroke="#000" stroke-width="1.45"/>
<text x="471.00" y="348.00" font-size="9.3" text-anchor="middle" font-weight="normal" font-style="normal" >VC</text>
<text x="490.00" y="348.00" font-size="9.3" text-anchor="middle" font-weight="normal" font-style="normal" >Inh</text>
<text x="509.60" y="348.00" font-size="9.3" text-anchor="middle" font-weight="normal" font-style="normal" >GlyH</text>
<text transform="translate(433.60,273.60) rotate(-90)" font-size="9.6" text-anchor="middle">Increase in CD66b MFI (%)</text>
<text x="491.00" y="222.70" font-size="9.3" text-anchor="middle"><tspan font-style="italic">P</tspan> = 0.0001</text>
<path d="M470.60,229.40 V225.60 H509.70 V229.40" fill="none" stroke="#000" stroke-width="1.45"/>
<path d="M470.60,236.80 V233.30 H489.90 V236.80" fill="none" stroke="#000" stroke-width="1.45"/>
</svg>
</body></html>
